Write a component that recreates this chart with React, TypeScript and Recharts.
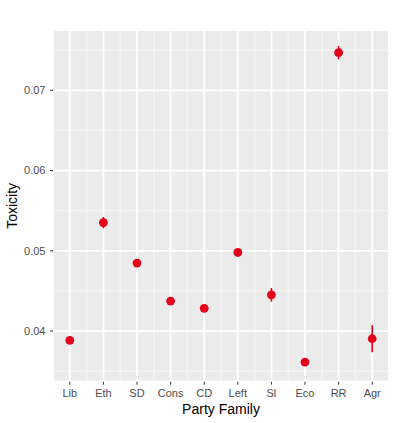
import React from 'react';
import { ComposedChart, Scatter, XAxis, YAxis, CartesianGrid, ErrorBar } from 'recharts';

const families = ['Lib', 'Eth', 'SD', 'Cons', 'CD', 'Left', 'Sl', 'Eco', 'RR', 'Agr'];
const toxicity = [0.03884, 0.05352, 0.04847, 0.04374, 0.04283, 0.04979, 0.04452, 0.03614, 0.07468, 0.03904];
const errors = [0.0003, 0.0007, 0.0003, 0.0003, 0.0003, 0.0003, 0.00085, 0.0002, 0.00083, 0.00167];
const yMajorTicks = [0.04, 0.05, 0.06, 0.07];
const yMinorTicks = [0.035, 0.045, 0.055, 0.065, 0.075];

const data = families.map((f, i) => ({ family: f, value: toxicity[i], err: errors[i] }));

const FONT = '"Liberation Sans", Arial, Helvetica, sans-serif';
const RED = '#e3001b';

const applyScale = (s: any, v: any) => {
  if (!s) return NaN;
  if (typeof s === 'function') return s(v);
  if (typeof s.map === 'function') return s.map(v);
  return NaN;
};

const minorH = (props: any) => {
  const ya = props.yAxis;
  return yMinorTicks.map((v) => applyScale(ya && ya.scale, v)).filter((n) => Number.isFinite(n));
};

const minorV = (props: any) => {
  const xa = props.xAxis;
  const out: number[] = [];
  for (let i = 1; i < families.length; i++) {
    const a = applyScale(xa && xa.scale, families[i - 1]);
    const b = applyScale(xa && xa.scale, families[i]);
    if (Number.isFinite(a) && Number.isFinite(b)) out.push((a + b) / 2);
  }
  return out;
};

const Dot = (props: any) => {
  const { cx, cy } = props;
  if (cx == null || cy == null) return null;
  return <circle cx={cx} cy={cy} r={4.4} fill={RED} />;
};

export default function App() {
  return (
    <div style={{ position: 'absolute', left: 0, top: 0, width: 397, height: 423, background: '#fff' }}>
      <ComposedChart width={397} height={423} data={data} margin={{ top: 30, right: 8, left: 0, bottom: 0 }}>
        <CartesianGrid
          fill="#ebebeb"
          stroke="#f4f4f4"
          strokeWidth={1.2}
          horizontalCoordinatesGenerator={minorH}
          verticalCoordinatesGenerator={minorV}
        />
        <CartesianGrid stroke="#ffffff" strokeWidth={1.8} />
        <XAxis
          dataKey="family"
          type="category"
          height={41.3}
          padding={{ left: 16.8, right: 16.8 }}
          axisLine={false}
          tickLine={{ stroke: '#333333', strokeWidth: 1 }}
          tickSize={3}
          tickMargin={4}
          interval={0}
          tick={{ fill: '#4d4d4d', fontSize: 11, fontFamily: FONT }}
          label={{
            content: () => (
              <text x={221} y={413.5} textAnchor="middle" fontSize={14} fontFamily={FONT} fill="#000">
                Party Family
              </text>
            ),
          }}
        />
        <YAxis
          type="number"
          domain={[0.03369, 0.07751]}
          ticks={yMajorTicks}
          allowDataOverflow
          width={53}
          axisLine={false}
          tickLine={{ stroke: '#333333', strokeWidth: 1 }}
          tickSize={3}
          tickMargin={4.5}
          tickFormatter={(v: number) => v.toFixed(2)}
          tick={{ fill: '#4d4d4d', fontSize: 11, fontFamily: FONT }}
          label={{
            content: (p: any) => {
              const vb = p.viewBox || {};
              const cy = vb.y + vb.height / 2;
              return (
                <text x={17} y={cy} transform={`rotate(-90 17 ${cy})`} textAnchor="middle" fontSize={14} fontFamily={FONT} fill="#000">
                  Toxicity
                </text>
              );
            },
          }}
        />
        <Scatter dataKey="value" fill={RED} shape={Dot} isAnimationActive={false}>
          <ErrorBar dataKey="err" direction="y" width={0} stroke={RED} strokeWidth={1.6} />
        </Scatter>
      </ComposedChart>
    </div>
  );
}
